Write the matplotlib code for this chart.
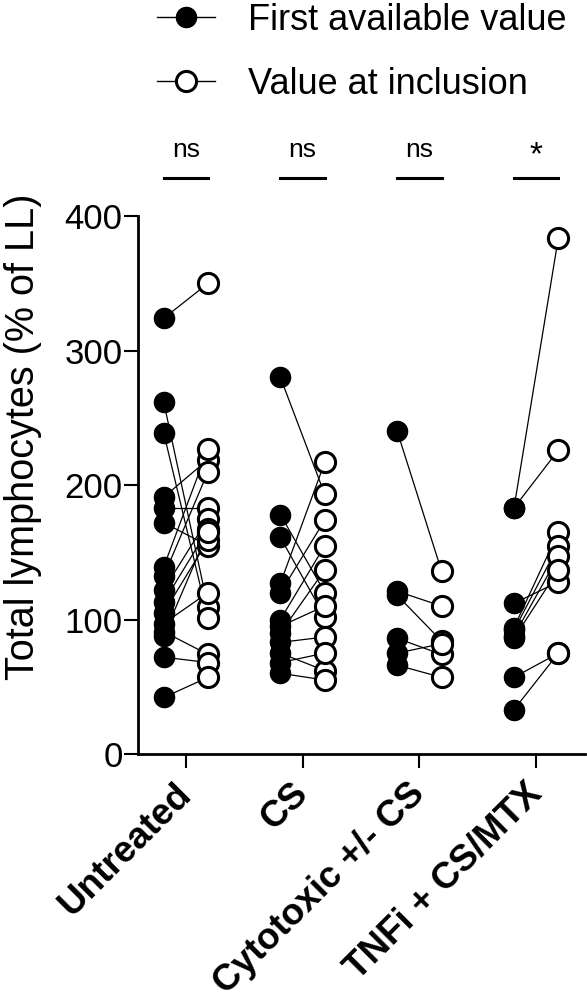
import matplotlib
matplotlib.use('Agg')
import matplotlib.pyplot as plt
import matplotlib.transforms as mtransforms
from matplotlib.lines import Line2D

plt.rcParams['font.family'] = ['Liberation Sans', 'DejaVu Sans']

groups = ['Untreated', 'CS', 'Cytotoxic +/- CS', 'TNFi + CS/MTX']
signif = ['ns', 'ns', 'ns', '*']

# paired values: first available value -> value at inclusion
untreated_first = [324, 262, 239, 191, 183, 172, 139, 132, 122, 113, 105, 97, 91, 88, 72, 42]
untreated_incl = [350, 109, 101, 219, 183, 155, 227, 210, 175, 167, 159, 120, 74, 165, 68, 57]

cs_first = [280, 178, 161, 127, 120, 100, 95, 90, 83, 75, 68, 60]
cs_incl = [193, 120, 102, 217, 174, 155, 110, 137, 87, 62, 75, 55]

cyto_first = [240, 121, 118, 86, 75, 66]
cyto_incl = [136, 110, 84, 74, 82, 57]

tnfi_first = [183, 183, 112, 94, 92, 88, 86, 57, 33]
tnfi_incl = [384, 226, 128, 165, 155, 147, 137, 75, 75]

first_vals = [untreated_first, cs_first, cyto_first, tnfi_first]
incl_vals = [untreated_incl, cs_incl, cyto_incl, tnfi_incl]

fig = plt.figure(figsize=(5.87, 9.96), dpi=100)
ax = fig.add_axes([0.235, 0.243, 0.762, 0.540])

off = 0.19
ms = 14.5
for i in range(len(groups)):
    xf = i - off
    xi = i + off
    for a, b in zip(first_vals[i], incl_vals[i]):
        ax.plot([xf, xi], [a, b], color='black', lw=0.9, zorder=1)
    ax.plot([xf] * len(first_vals[i]), first_vals[i], 'o', color='black',
            ms=ms, mec='black', zorder=3, clip_on=False)
    ax.plot([xi] * len(incl_vals[i]), incl_vals[i], 'o', mfc='white',
            mec='black', mew=2.2, ms=ms, zorder=3, clip_on=False)
    # significance bar + label
    ax.plot([xf, xi], [428, 428], color='black', lw=2.2, clip_on=False)
    if signif[i] == '*':
        ax.text(i, 433, signif[i], ha='center', va='bottom', fontsize=24)
    else:
        ax.text(i, 440, signif[i], ha='center', va='bottom', fontsize=19)

ax.set_xlim(-0.41, 3.42)
ax.set_ylim(0, 400)
ax.set_yticks([0, 100, 200, 300, 400])
ax.set_xticks(range(len(groups)))
ax.set_xticklabels(groups, rotation=45, ha='right', va='center',
                   rotation_mode='anchor', fontweight='bold', fontsize=26.5)
shift = mtransforms.ScaledTranslation(5 / 100, 0, fig.dpi_scale_trans)
for lbl in ax.get_xticklabels():
    lbl.set_transform(lbl.get_transform() + shift)
ax.tick_params(axis='y', labelsize=25, width=1.5, length=10, pad=1)
ax.tick_params(axis='x', width=1.5, length=10, pad=15)
ax.set_ylabel('Total lymphocytes (% of LL)', fontsize=28.5)
ax.yaxis.set_label_coords(-0.215, 0.589)
for s in ['top', 'right']:
    ax.spines[s].set_visible(False)
for s in ['left', 'bottom']:
    ax.spines[s].set_linewidth(2)

handles = [
    Line2D([0], [0], color='black', lw=1, marker='o', ms=ms, mfc='black', mec='black'),
    Line2D([0], [0], color='black', lw=1, marker='o', ms=ms, mfc='white', mec='black', mew=2.2),
]
fig.legend(handles, ['First available value', 'Value at inclusion'],
           loc='upper left', bbox_to_anchor=(0.2675, 0.997), frameon=False,
           borderpad=0, borderaxespad=0,
           fontsize=26, handlelength=1.6, handletextpad=0.92, labelspacing=0.8)

fig.savefig('out.png', dpi=100)
